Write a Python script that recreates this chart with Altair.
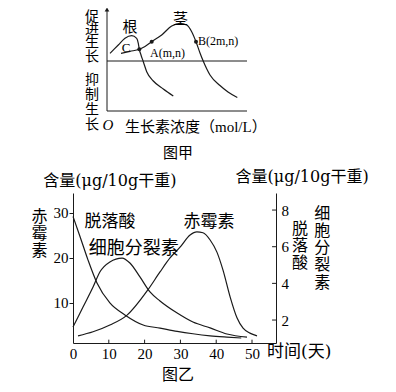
import altair as alt
import pandas as pd

CJK = "Noto Sans CJK SC"
SERIF = "Liberation Serif"
MIX = "Liberation Serif, Noto Sans CJK SC"
WIDE = "DejaVu Serif, Noto Sans CJK SC"
INK = "#1a1a1a"

# ---------------- 图甲 (concept curves) ----------------
root_conc = [0.30, 1.13, 1.80, 2.47, 2.97, 3.13, 3.23, 3.40, 3.63, 3.97, 4.63, 5.63, 6.63]
root_eff = [0.77, 1.60, 2.27, 2.53, 2.27, 1.77, 1.17, 0.60, -0.07, -1.07, -2.00, -2.80, -3.50]
stem_conc = [1.40, 2.30, 3.23, 3.80, 4.47, 5.47, 6.47, 7.30, 7.97, 8.47, 8.90, 9.30, 9.63,
             10.30, 11.30, 12.10, 13.03]
stem_eff = [0.77, 0.97, 1.17, 1.45, 1.93, 2.60, 3.50, 3.77, 3.60, 2.93, 1.93, 0.80, -0.03,
            -1.40, -2.45, -3.10, -3.65]
point_names = ["A", "B", "C"]
point_conc = [4.47, 8.90, 3.23]
point_eff = [1.93, 1.93, 1.17]

# ---------------- 图乙 (hormone content vs. days) ----------------
ga_day = [1.4, 5.6, 10.3, 15.1, 20.9, 24.3, 27.1, 29.9, 32.7, 34.6, 36.3, 38.3, 40.2, 41.9,
          43.9, 45.8, 47.5, 49.4, 51.4]
ga_val = [2.7, 3.6, 5.1, 7.3, 12.9, 16.9, 20.0, 22.4, 25.1, 25.8, 25.6, 24.0, 21.3, 17.3,
          11.3, 6.7, 4.4, 3.3, 2.7]
aba_day = [0.0, 2.0, 4.2, 6.7, 10.3, 14.5, 19.6, 24.3, 29.1, 33.5, 38.3, 43.0, 47.0]
aba_val = [7.65, 6.53, 5.27, 4.02, 2.93, 2.28, 1.73, 1.56, 1.38, 1.25, 1.14, 1.07, 1.02]
ck_day = [0.0, 2.8, 5.6, 7.5, 10.3, 13.7, 15.9, 18.7, 21.5, 24.3, 29.1, 33.5, 38.3, 43.0, 48.6]
ck_val = [1.62, 2.71, 3.80, 4.62, 5.17, 5.38, 5.11, 4.35, 3.53, 3.04, 2.38, 1.89, 1.57, 1.24, 1.07]

x_ticks = [0, 10, 20, 30, 40, 50]
left_ticks = [10, 20, 30]
right_ticks = [2, 4, 6, 8]

# ---------------- scales ----------------
TOP_X = alt.Scale(domain=[-3.4, 16.9], nice=False, zero=False)
TOP_Y = alt.Scale(domain=[-28.2, -13.2], nice=False, zero=False)
BX = alt.Scale(domain=[0, 56.7], nice=False, zero=False)
BYL = alt.Scale(domain=[1.11, 34.44], nice=False, zero=False)
BYR = alt.Scale(domain=[0.747, 8.93], nice=False, zero=False)

layers = []


def text_layer(text, x, y, sx, sy, size, font, align="center", lh=None, style="normal"):
    df = pd.DataFrame({"x": [x], "y": [y], "t": [text]})
    kw = dict(align=align, baseline="middle", font=font, fontSize=size, color="black",
              fontStyle=style, lineBreak="\n")
    if lh is not None:
        kw["lineHeight"] = lh
    return alt.Chart(df).mark_text(**kw).encode(
        x=alt.X("x:Q", scale=sx, axis=None),
        y=alt.Y("y:Q", scale=sy, axis=None),
        text="t:N",
    )


# ---- 图甲 axes ----
top_axes = pd.DataFrame({"x0": [0, 0, 0], "x1": [0, 14, 14],
                         "y0": [-5, -5, 0], "y1": [5.0, -5, 0]})
layers.append(alt.Chart(top_axes).mark_rule(color=INK, strokeWidth=1).encode(
    x=alt.X("x0:Q", scale=TOP_X, axis=None), x2="x1:Q",
    y=alt.Y("y0:Q", scale=TOP_Y, axis=None), y2="y1:Q"))
layers.append(alt.Chart(pd.DataFrame({"x": [0], "y": [5.15]})).mark_point(
    shape="triangle-up", filled=True, size=22, color=INK, opacity=1).encode(
    x=alt.X("x:Q", scale=TOP_X, axis=None), y=alt.Y("y:Q", scale=TOP_Y, axis=None)))

root_df = pd.DataFrame({"c": root_conc, "e": root_eff})
stem_df = pd.DataFrame({"c": stem_conc, "e": stem_eff})
for df in (root_df, stem_df):
    layers.append(alt.Chart(df).mark_line(interpolate="monotone", color=INK, strokeWidth=1.2).encode(
        x=alt.X("c:Q", scale=TOP_X, axis=None), y=alt.Y("e:Q", scale=TOP_Y, axis=None), order="c:Q"))
pts_df = pd.DataFrame({"n": point_names, "c": point_conc, "e": point_eff})
layers.append(alt.Chart(pts_df).mark_circle(size=16, color=INK, opacity=1).encode(
    x=alt.X("c:Q", scale=TOP_X, axis=None), y=alt.Y("e:Q", scale=TOP_Y, axis=None)))

# multi-line labels: y is the centre of the first line
top_labels = [
    ("促\n进\n生\n长", -1.5, 4.4, 14, CJK, "center", 13.2, "normal"),
    ("抑\n制\n生\n长", -1.5, -1.9, 14, CJK, "center", 15, "normal"),
    ("O", 0.1, -6.4, 15, SERIF, "center", None, "italic"),
    ("生长素浓度（mol/L）", 1.8, -6.6, 15, MIX, "left", None, "normal"),
    ("图甲", 7.1, -9.2, 15, CJK, "center", None, "normal"),
    ("根", 2.3, 3.4, 15, CJK, "center", None, "normal"),
    ("茎", 7.35, 4.2, 15, CJK, "center", None, "normal"),
    ("C", 1.9, 1.3, 13, SERIF, "center", None, "normal"),
    ("A(m,n)", 4.3, 0.85, 12, SERIF, "left", None, "normal"),
    ("B(2m,n)", 9.1, 2.0, 12, SERIF, "left", None, "normal"),
]
for t, x, y, s, f, a, lh, st in top_labels:
    layers.append(text_layer(t, x, y, TOP_X, TOP_Y, s, f, a, lh, st))

# ---- 图乙 ----
axis_common = dict(labelFont=SERIF, labelFontSize=15, labelColor="black", domainColor=INK,
                   domainWidth=1, grid=False, title=None, labelFlush=False, labelOverlap=False)
ga_df = pd.DataFrame({"day": ga_day, "val": ga_val})
layers.append(alt.Chart(ga_df).mark_line(interpolate="monotone", color=INK, strokeWidth=1.2).encode(
    x=alt.X("day:Q", scale=BX, axis=alt.Axis(orient="bottom", values=x_ticks, ticks=False,
                                              tickSize=0, labelPadding=3, **axis_common)),
    y=alt.Y("val:Q", scale=BYL, axis=alt.Axis(orient="left", values=left_ticks, ticks=True,
                                               tickSize=4, tickColor=INK, labelPadding=1,
                                               **axis_common)),
    order="day:Q"))

rc_df = pd.concat([
    pd.DataFrame({"series": "脱落酸", "day": aba_day, "val": aba_val}),
    pd.DataFrame({"series": "细胞分裂素", "day": ck_day, "val": ck_val}),
])
layers.append(alt.Chart(rc_df).mark_line(interpolate="monotone", color=INK, strokeWidth=1.2).encode(
    x=alt.X("day:Q", scale=BX, axis=None),
    y=alt.Y("val:Q", scale=BYR, axis=alt.Axis(orient="right", values=right_ticks, ticks=False,
                                               tickSize=0, labelPadding=5, **axis_common)),
    detail="series:N", order="day:Q"))

# inward ticks on x axis and right axis
xt_df = pd.DataFrame({"d": x_ticks[1:], "y0": [1.11] * 5, "y1": [1.85] * 5})
layers.append(alt.Chart(xt_df).mark_rule(color=INK, strokeWidth=1).encode(
    x=alt.X("d:Q", scale=BX, axis=None), y=alt.Y("y0:Q", scale=BYL, axis=None), y2="y1:Q"))
rt_df = pd.DataFrame({"v": right_ticks, "x0": [55.6] * 4, "x1": [56.7] * 4})
layers.append(alt.Chart(rt_df).mark_rule(color=INK, strokeWidth=1).encode(
    y=alt.Y("v:Q", scale=BYR, axis=None), x=alt.X("x0:Q", scale=BX, axis=None), x2="x1:Q"))

bottom_labels = [
    ("含量(μg/10g干重)", 10.3, 37.2, 16, WIDE, "center", None),
    ("含量(μg/10g干重)", 64.0, 38.0, 16, WIDE, "center", None),
    ("赤\n霉\n素", -9.36, 29.1, 16, CJK, "center", 17),
    ("脱\n落\n酸", 63.4, 26.5, 16, CJK, "center", 17),
    ("细\n胞\n分\n裂\n素", 69.6, 29.8, 16, CJK, "center", 17.2),
    ("脱落酸", 10.3, 28.0, 17, CJK, "center", None),
    ("细胞分裂素", 17.0, 21.9, 18, CJK, "center", None),
    ("赤霉素", 38.0, 28.0, 17, CJK, "center", None),
    ("时间(天)", 54.2, -0.9, 17, WIDE, "left", None),
    ("图乙", 29.3, -6.0, 16, CJK, "center", None),
]
for t, x, y, s, f, a, lh in bottom_labels:
    layers.append(text_layer(t, x, y, BX, BYL, s, f, a, lh))

chart = alt.layer(*layers).resolve_scale(
    x="independent", y="independent"
).properties(
    width=203, height=150,
    padding={"left": 65, "top": 185, "right": 112, "bottom": 41},
    autosize=alt.AutoSizeParams(type="none"),
    background="white",
).configure_view(stroke=None)

chart.save("out.html", embed_options={"renderer": "svg", "actions": False})
